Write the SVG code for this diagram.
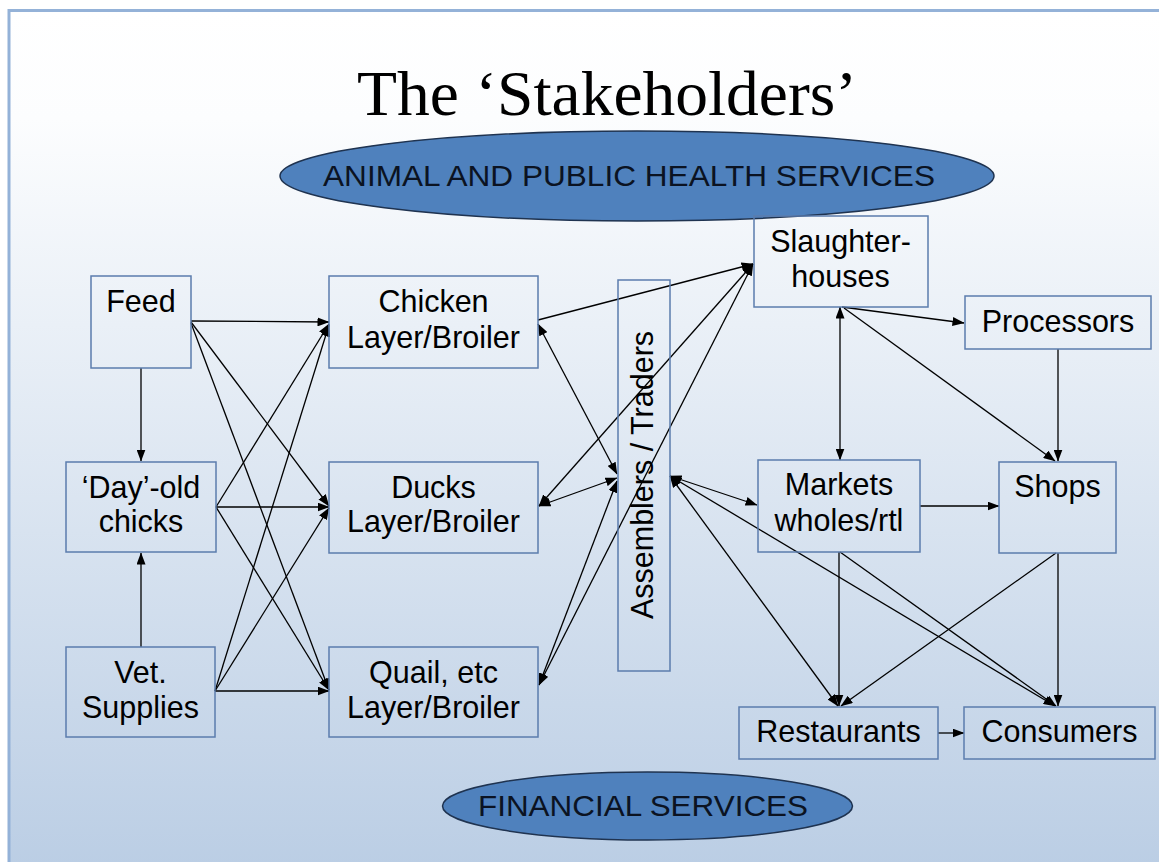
<svg xmlns="http://www.w3.org/2000/svg" width="1159" height="862" viewBox="0 0 1159 862">
<defs>
<linearGradient id="bg" x1="0" y1="0" x2="0" y2="1">
<stop offset="0" stop-color="#ffffff"/>
<stop offset="0.12" stop-color="#fcfdfe"/>
<stop offset="1" stop-color="#b7cbe3"/>
</linearGradient>
<marker id="ah" viewBox="0 0 12 9" refX="11.5" refY="4.5" markerWidth="12" markerHeight="9" markerUnits="userSpaceOnUse" orient="auto-start-reverse">
<path d="M0,0 L12,4.5 L0,9 z" fill="#000"/>
</marker>
<style>
.box{fill:none;stroke:#5b7cad;stroke-width:1.5}
.lbl{font-family:"Liberation Sans",Arial,sans-serif;font-size:30.5px;fill:#000;text-anchor:middle}
.ell{fill:#4f81bd;stroke:#1f3350;stroke-width:1.5}
.etxt{font-family:"Liberation Sans",Arial,sans-serif;font-size:29px;fill:#0b1322;text-anchor:middle}
.c{fill:none;stroke:#000;stroke-width:1.3;marker-end:url(#ah)}
.c2{marker-start:url(#ah)}
</style>
</defs>
<rect x="0" y="0" width="1159" height="862" fill="#ffffff"/>
<rect x="9" y="10.5" width="1200" height="900" fill="url(#bg)" stroke="#94b2d8" stroke-width="3"/>
<text x="607" y="115" font-family="'Liberation Serif','Times New Roman',serif" font-size="64" text-anchor="middle" fill="#000" textLength="500" lengthAdjust="spacingAndGlyphs">The ‘Stakeholders’</text>

<g id="animal-health">
<ellipse class="ell" cx="637" cy="176" rx="357" ry="45"/>
<text class="etxt" x="629" y="186" textLength="612" lengthAdjust="spacingAndGlyphs">ANIMAL AND PUBLIC HEALTH SERVICES</text>
</g>
<g id="financial">
<ellipse class="ell" cx="647.5" cy="806" rx="205" ry="34"/>
<text class="etxt" x="643" y="816" textLength="330" lengthAdjust="spacingAndGlyphs">FINANCIAL SERVICES</text>
</g>

<g id="connectors">
<path class="c" d="M141,368 L141,461"/>
<path class="c" d="M141,647 L141,553"/>
<path class="c" d="M191,321 L329,322"/>
<path class="c" d="M191,322 L329,506"/>
<path class="c" d="M191,323 L329,690"/>
<path class="c" d="M216,507 L329,324"/>
<path class="c" d="M216,507 L329,507"/>
<path class="c" d="M216,507 L329,690"/>
<path class="c" d="M215,691 L329,325"/>
<path class="c" d="M215,691 L329,508"/>
<path class="c" d="M215,691 L329,691"/>

<path class="c c2" d="M538,324 L617,474"/>
<path class="c" d="M538,320 L753,264"/>
<path class="c c2" d="M539,506 L617,478"/>
<path class="c c2" d="M539,506 L753,264"/>
<path class="c c2" d="M539,685 L617,481"/>
<path class="c c2" d="M539,685 L753,264"/>

<path class="c c2" d="M670,476 L757,505"/>
<path class="c c2" d="M670,476 L838,706"/>
<path class="c c2" d="M670,476 L1055,706"/>
<path class="c" d="M839,552 L839,706"/>
<path class="c" d="M840,552 L1056,706"/>
<path class="c" d="M1056,553 L841,706"/>
<path class="c" d="M1058,553 L1058,706"/>
<path class="c" d="M920,506 L999,506"/>
<path class="c" d="M938,733 L964,733"/>
<path class="c c2" d="M840,307 L840,460"/>
<path class="c" d="M842,307 L964,323"/>
<path class="c" d="M844,308 L1055,461"/>
<path class="c" d="M1058,349 L1058,461"/>
</g>

<g id="feed">
<rect class="box" x="91" y="276" width="100" height="92"/>
<text class="lbl" x="141" y="312">Feed</text>
</g>
<g id="day-old-chicks">
<rect class="box" x="66" y="462" width="150" height="90"/>
<text class="lbl" x="141" y="498">‘Day’-old</text>
<text class="lbl" x="141" y="532">chicks</text>
</g>
<g id="vet-supplies">
<rect class="box" x="66" y="647" width="149" height="90"/>
<text class="lbl" x="140.5" y="683">Vet.</text>
<text class="lbl" x="140.5" y="718">Supplies</text>
</g>
<g id="chicken">
<rect class="box" x="329" y="276" width="209" height="92"/>
<text class="lbl" x="433.5" y="312">Chicken</text>
<text class="lbl" x="433.5" y="348">Layer/Broiler</text>
</g>
<g id="ducks">
<rect class="box" x="329" y="462" width="209" height="91"/>
<text class="lbl" x="433.5" y="498">Ducks</text>
<text class="lbl" x="433.5" y="532">Layer/Broiler</text>
</g>
<g id="quail">
<rect class="box" x="329" y="647" width="209" height="90"/>
<text class="lbl" x="433.5" y="683">Quail, etc</text>
<text class="lbl" x="433.5" y="718">Layer/Broiler</text>
</g>
<g id="assemblers">
<rect class="box" x="618" y="280" width="52" height="391"/>
<text class="lbl" transform="translate(653,475) rotate(-90)">Assemblers / Traders</text>
</g>
<g id="slaughterhouses">
<rect class="box" x="754" y="216" width="174" height="91"/>
<text class="lbl" x="840.5" y="252">Slaughter-</text>
<text class="lbl" x="840.5" y="287">houses</text>
</g>
<g id="processors">
<rect class="box" x="965" y="296" width="186" height="53"/>
<text class="lbl" x="1058" y="332">Processors</text>
</g>
<g id="markets">
<rect class="box" x="758" y="460" width="162" height="92"/>
<text class="lbl" x="839" y="495">Markets</text>
<text class="lbl" x="839" y="531">wholes/rtl</text>
</g>
<g id="shops">
<rect class="box" x="999" y="462" width="117" height="91"/>
<text class="lbl" x="1057.5" y="497">Shops</text>
</g>
<g id="restaurants">
<rect class="box" x="739" y="707" width="199" height="52"/>
<text class="lbl" x="838.5" y="742">Restaurants</text>
</g>
<g id="consumers">
<rect class="box" x="964" y="707" width="191" height="52"/>
<text class="lbl" x="1059.5" y="742">Consumers</text>
</g>
</svg>
